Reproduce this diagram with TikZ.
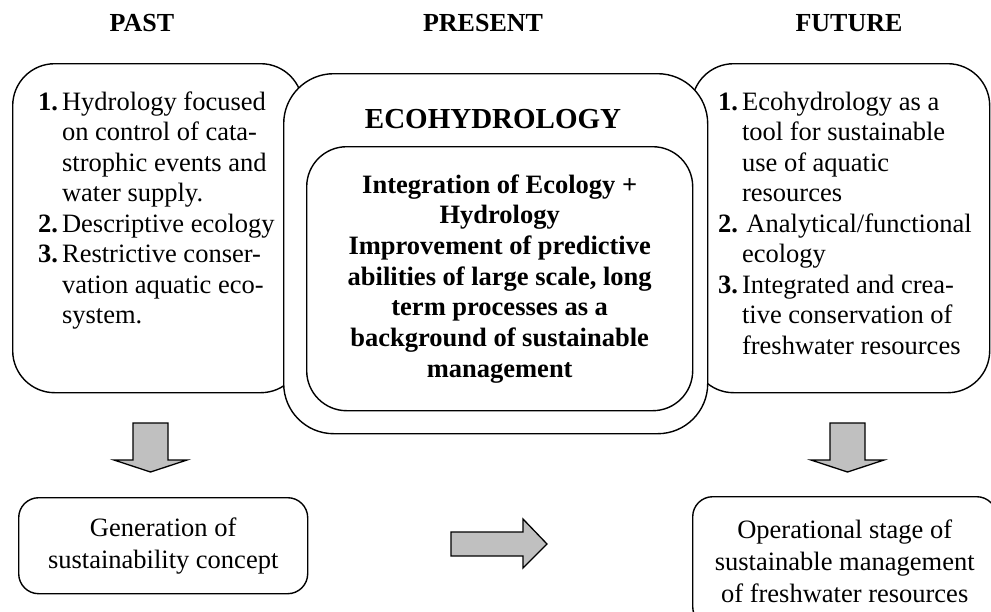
\documentclass[tikz,border=0pt]{standalone}
\usepackage{fontspec}
\setmainfont{Liberation Serif}
\usetikzlibrary{positioning}
\definecolor{arrowfill}{HTML}{C0C0C0}
\newcommand\bodyfont{\fontsize{26.5}{30.5}\selectfont}
\newcommand\corefont{\fontsize{26.5}{30.7}\selectfont\bfseries}
\newcommand\headfont{\fontsize{26}{30}\selectfont\bfseries}
\tikzset{
  stagebox/.style={draw,line width=1.4pt,rounded corners=42pt,fill=white,inner sep=0pt},
  corebox/.style={stagebox,rounded corners=50pt},
  innerbox/.style={stagebox,rounded corners=40pt,align=center,font=\corefont},
  outbox/.style={draw,line width=1.4pt,rounded corners=20pt,fill=white,align=center,
                 inner sep=0pt,font=\fontsize{26.5}{32}\selectfont},
  listtext/.style={inner sep=0pt,anchor=base west,font=\bodyfont},
  stagehead/.style={inner sep=0pt,anchor=base,font=\headfont},
  blockarrow/.style={draw,line width=1.3pt,fill=arrowfill,line join=miter},
  droparrow/.pic={\draw[blockarrow] (-17.5,0) -- (17.5,0) -- (17.5,37) -- (36.5,37)
                   -- (0,49) -- (-36.5,37) -- (-17.5,37) -- cycle;},
}

\begin{document}
\begin{tikzpicture}[x=1pt,y=-1pt]
\useasboundingbox (0,0) rectangle (991,611);
\clip (0,0) rectangle (991,611);

% column titles
\node[stagehead] (pasthead) at (142,31) {PAST};
\node[stagehead] (presenthead) at (483,31) {PRESENT};
\node[stagehead] (futurehead) at (849,31) {FUTURE};

% side boxes first, the middle one covers their inner edges
\node[stagebox, anchor=north west, minimum width=290pt, minimum height=329pt] (past) at (12,63) {};
\node[stagebox, anchor=north west, minimum width=298pt, minimum height=329pt] (future) at (691,63) {};

\node[listtext] (pastlist) at ([xshift=26pt,yshift=-47pt]past.north west)
  {\begin{tabular}[t]{@{}l@{\hspace{4pt}}l@{}}
   \textbf{1.} & Hydrology focused\\
               & on control of cata-\\
               & strophic events and\\
               & water supply.\\
   \textbf{2.} & Descriptive ecology\\
   \textbf{3.} & Restrictive conser-\\
               & vation aquatic eco-\\
               & system.
   \end{tabular}};

\node[listtext] (futurelist) at ([xshift=27pt,yshift=-47pt]future.north west)
  {\begin{tabular}[t]{@{}l@{\hspace{4pt}}l@{}}
   \textbf{1.} & Ecohydrology as a\\
               & tool for sustainable\\
               & use of aquatic\\
               & resources\\
   \textbf{2.} & \,Analytical/functional\\
               & ecology\\
   \textbf{3.} & Integrated and crea-\\
               & tive conservation of\\
               & freshwater resources
   \end{tabular}};

% present
\node[corebox, anchor=north west, minimum width=424pt, minimum height=360pt] (present) at (283,73) {};
\node[inner sep=0pt, anchor=base, font=\fontsize{29}{33}\selectfont\bfseries] (ecotitle) at (493,128) {ECOHYDROLOGY};
\node[innerbox, anchor=north west, minimum width=386pt, minimum height=264pt] (core) at (306,146)
  {Integration of Ecology +\\Hydrology\\Improvement of predictive\\abilities of large scale, long\\
   term processes as a\\background of sustainable\\management};

% outcomes
\node[outbox, anchor=north west, minimum width=289pt, minimum height=96pt] (concept) at (18,497)
  {Generation of\\sustainability concept};
\node[outbox, anchor=north west, minimum width=304pt, minimum height=130pt] (operation) at (692,496)
  {Operational stage of\\sustainable management\\of freshwater resources};

\pic (pastdrop) at (150.5,423) {droparrow};
\pic (futuredrop) at (847.5,423) {droparrow};
\draw[blockarrow] (451,532) -- (523,532) -- (523,519) -- (547,544) -- (523,568)
  -- (523,556) -- (451,556) -- cycle;

\end{tikzpicture}
\end{document}
